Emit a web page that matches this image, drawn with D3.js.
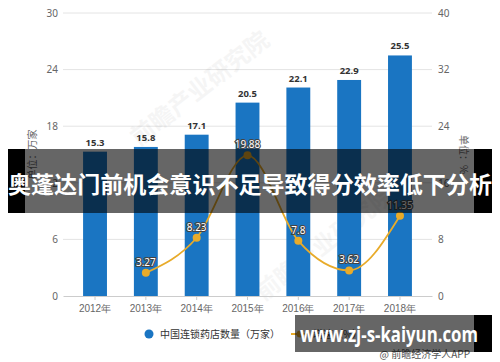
<!DOCTYPE html>
<html><head><meta charset="utf-8">
<script src="https://cdn.jsdelivr.net/npm/d3@7"></script>
<style>html,body{margin:0;padding:0;background:#fff;}svg{display:block;font-family:"Noto Sans CJK SC","Noto Sans",sans-serif;}</style>
</head><body>
<svg id="c" width="500" height="362"></svg>
<script>
const categories = ["2012年","2013年","2014年","2015年","2016年","2017年","2018年"];
const storeCounts = [15.3, 15.8, 17.1, 20.5, 22.1, 22.9, 25.5];
const growthYears = ["2013年","2014年","2015年","2016年","2017年","2018年"];
const growthRates = [3.27, 8.23, 19.88, 7.8, 3.62, 11.35];
const leftTicks = [0, 6, 12, 18, 24, 30];
const rightTicks = [0, 8, 16, 24, 32, 40];
const seriesNames = ["中国连锁药店数量（万家）", "增速（%）"];
const leftTitle = "单位：万家";
const rightTitle = "单位：%";
const bannerTitle = "奥蓬达门前机会意识不足导致得分效率低下分析";
const bannerUrl = "www.zj-s-kaiyun.com";
const sourceText = "@ 前瞻经济学人APP";
const watermark = "前瞻产业研究院";

const svg = d3.select("#c");
const L = 63, R = 432, T = 13, B = 296;
const x = d3.scaleBand().domain(categories).range([L, R]).paddingInner(0.53).paddingOuter(0.395);
const yL = d3.scaleLinear().domain([0, 30]).range([B, T]);
const yR = d3.scaleLinear().domain([0, 40]).range([B, T]);
const barColor = "#1a75c2", lineColor = "#e8ab2a";

// gridlines
svg.append("g").selectAll("line").data(leftTicks.slice(1)).join("line")
  .attr("x1", L).attr("x2", R).attr("y1", d => yL(d)).attr("y2", d => yL(d))
  .attr("stroke", "#e4e4e4").attr("stroke-width", 1);

// watermark
svg.append("text").text(watermark).attr("transform", "translate(205,95) rotate(-38)")
  .attr("text-anchor", "middle").attr("font-size", 24).attr("font-weight", "bold")
  .attr("fill", "#000").attr("opacity", 0.035);
svg.append("text").text(watermark).attr("transform", "translate(330,250) rotate(-38)")
  .attr("text-anchor", "middle").attr("font-size", 24).attr("font-weight", "bold")
  .attr("fill", "#000").attr("opacity", 0.03);

// left axis
const gl = svg.append("g").attr("transform", `translate(${L},0)`)
  .call(d3.axisLeft(yL).tickValues(leftTicks).tickSize(0).tickPadding(5));
gl.select(".domain").remove();
gl.selectAll("text").attr("fill", "#666").attr("font-size", 10).attr("font-family", "'Noto Sans',sans-serif");

// right axis
const gr = svg.append("g").attr("transform", `translate(${R},0)`)
  .call(d3.axisRight(yR).tickValues(rightTicks).tickSize(0).tickPadding(6));
gr.select(".domain").remove();
gr.selectAll("text").attr("fill", "#666").attr("font-size", 10).attr("font-family", "'Noto Sans',sans-serif");

// bars
svg.append("g").selectAll("rect").data(storeCounts).join("rect")
  .attr("x", (d, i) => x(categories[i])).attr("width", x.bandwidth())
  .attr("y", d => yL(d)).attr("height", d => yL(0) - yL(d)).attr("fill", barColor);

svg.append("g").selectAll("text").data(storeCounts).join("text")
  .attr("x", (d, i) => x(categories[i]) + x.bandwidth() / 2).attr("y", d => yL(d) - 6)
  .attr("text-anchor", "middle").attr("font-size", 9.5).attr("font-weight", "bold")
  .attr("fill", "#333").attr("font-family", "'Noto Sans',sans-serif").text(d => d);

// x axis
const gx = svg.append("g").attr("transform", `translate(0,${B})`)
  .call(d3.axisBottom(x).tickSize(4).tickPadding(5).tickSizeOuter(0));
gx.select(".domain").attr("stroke", "#ccc");
gx.selectAll(".tick line").attr("stroke", "#ccc");
gx.selectAll("text").attr("fill", "#666").attr("font-size", 10);

// line
const cx = d => x(d) + x.bandwidth() / 2;
const lineData = growthYears.map((c, i) => [cx(c), yR(growthRates[i])]);
svg.append("path").attr("d", d3.line().curve(d3.curveMonotoneX)(lineData))
  .attr("fill", "none").attr("stroke", lineColor).attr("stroke-width", 1.8);
svg.append("g").selectAll("circle").data(lineData).join("circle")
  .attr("cx", d => d[0]).attr("cy", d => d[1]).attr("r", 4).attr("fill", lineColor);
svg.append("g").selectAll("text").data(growthRates).join("text")
  .attr("x", (d, i) => lineData[i][0]).attr("y", (d, i) => lineData[i][1] - 7)
  .attr("text-anchor", "middle").attr("font-size", 10).attr("font-family", "'Noto Sans',sans-serif")
  .attr("fill", "#fff").attr("stroke", "#444").attr("stroke-width", 2.2).attr("paint-order", "stroke")
  .text(d => d);

// axis titles
svg.append("text").text(leftTitle).attr("transform", `translate(36,${(T + B) / 2}) rotate(-90)`)
  .attr("text-anchor", "middle").attr("font-size", 10).attr("fill", "#666");
svg.append("text").text(rightTitle).attr("transform", `translate(460,${(T + B) / 2}) rotate(90)`)
  .attr("text-anchor", "middle").attr("font-size", 10).attr("fill", "#666");

// legend
svg.append("circle").attr("cx", 149).attr("cy", 334).attr("r", 4.5).attr("fill", barColor);
svg.append("text").text(seriesNames[0]).attr("x", 160).attr("y", 337.5)
  .attr("font-size", 10).attr("fill", "#333");
svg.append("line").attr("x1", 291).attr("x2", 309).attr("y1", 334).attr("y2", 334)
  .attr("stroke", lineColor).attr("stroke-width", 2);
svg.append("circle").attr("cx", 300).attr("cy", 334).attr("r", 3.5).attr("fill", lineColor);
svg.append("text").text(seriesNames[1]).attr("x", 313).attr("y", 337.5)
  .attr("font-size", 10).attr("fill", "#333");

// source
svg.append("text").text(sourceText).attr("x", 470).attr("y", 358).attr("text-anchor", "end")
  .attr("font-size", 10).attr("fill", "#555");

// top banner
svg.append("rect").attr("x", 8).attr("y", 149).attr("width", 17).attr("height", 64).attr("fill", "#000");
svg.append("rect").attr("x", 474).attr("y", 149).attr("width", 18).attr("height", 64).attr("fill", "#000");
svg.append("rect").attr("x", 25).attr("y", 149).attr("width", 449).attr("height", 64).attr("fill", "rgba(0,0,0,0.6)");
svg.append("text").text(bannerTitle).attr("x", 250).attr("y", 193).attr("text-anchor", "middle")
  .attr("font-size", 22.5).attr("font-weight", "bold").attr("fill", "#fff")
  .attr("textLength", 484).attr("lengthAdjust", "spacingAndGlyphs");

// bottom banner
svg.append("rect").attr("x", 474).attr("y", 315).attr("width", 18).attr("height", 37).attr("fill", "#000");
svg.append("rect").attr("x", 295).attr("y", 315).attr("width", 179).attr("height", 37).attr("fill", "rgba(0,0,0,0.6)");
svg.append("text").text(bannerUrl).attr("x", 389).attr("y", 342).attr("text-anchor", "middle")
  .attr("font-size", 21).attr("font-weight", "bold").attr("fill", "#fff")
  .attr("font-family", "'Open Sans','Noto Sans',sans-serif")
  .attr("textLength", 178).attr("lengthAdjust", "spacingAndGlyphs");
</script>
</body></html>
